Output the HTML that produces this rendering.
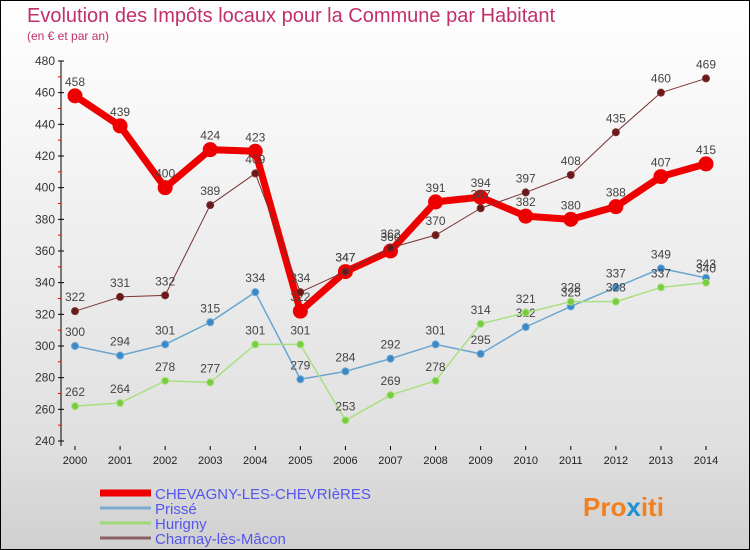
<!DOCTYPE html>
<html><head><meta charset="utf-8"><style>
body{margin:0;width:750px;height:550px;overflow:hidden;font-family:"Liberation Sans",sans-serif}
#c{position:absolute;left:0;top:0}
</style></head><body>
<svg id="c" width="750" height="550" xmlns="http://www.w3.org/2000/svg">
<defs><linearGradient id="bg" x1="0" y1="0" x2="0" y2="1"><stop offset="0" stop-color="#ffffff"/><stop offset="0.8" stop-color="#e0e0e0"/><stop offset="1" stop-color="#d0d0d0"/></linearGradient></defs>
<rect x="0.5" y="0.5" width="749" height="549" fill="url(#bg)" stroke="#000"/>
<text x="27" y="22" font-size="20" fill="#c0306a">Evolution des Impôts locaux pour la Commune par Habitant</text>
<text x="27" y="40" font-size="12" fill="#c0306a">(en € et par an)</text>
<g id="axes"></g><g id="series"></g><g id="legend"></g>
<text x="583" y="516" font-size="26" font-weight="bold" fill="#f08020">Pro<tspan fill="#2090d0">x</tspan>iti</text>
</svg>
<script>
const years=[2000,2001,2002,2003,2004,2005,2006,2007,2008,2009,2010,2011,2012,2013,2014];
const yTicks=[240,260,280,300,320,340,360,380,400,420,440,460,480];
const chevagny=[458,439,400,424,423,322,347,360,391,394,382,380,388,407,415];
const prisse=[300,294,301,315,334,279,284,292,301,295,312,325,337,349,343];
const hurigny=[262,264,278,277,301,301,253,269,278,314,321,328,328,337,340];
const charnay=[322,331,332,389,409,334,347,362,370,387,397,408,435,460,469];
const seriesNames=["CHEVAGNY-LES-CHEVRIèRES","Prissé","Hurigny","Charnay-lès-Mâcon"];
const NS="http://www.w3.org/2000/svg";
const xs=i=>75+i*(706-75)/(years.length-1);
const ys=v=>441-(v-240)*(441-61)/240;
function mk(t,a,p){const e=document.createElementNS(NS,t);for(const k in a)e.setAttribute(k,a[k]);p.appendChild(e);return e;}
const ax=document.getElementById('axes');
const yl=mk('line',{x1:61,y1:61,x2:61,y2:446,stroke:'#000'},ax);


yTicks.forEach((v,i)=>{
  mk('line',{x1:58,y1:ys(v),x2:64,y2:ys(v),stroke:'#000'},ax);
  if(i<yTicks.length-1)mk('line',{x1:58,y1:ys(v+10),x2:61,y2:ys(v+10),stroke:'#e00'},ax);
  const t=mk('text',{x:55,y:ys(v)+4,'font-size':12,fill:'#333','text-anchor':'end'},ax);t.textContent=v;
  
  
});
years.forEach((y,i)=>{
  mk('line',{x1:xs(i),y1:446,x2:xs(i),y2:450,stroke:'#000'},ax);
  const t=mk('text',{x:xs(i),y:464,'font-size':11,fill:'#222','text-anchor':'middle'},ax);t.textContent=y;
  
  
});
const sg=document.getElementById('series');
function draw(data,color,dot,w,r,name){
  const g=mk('g',{},sg);
  
  
  mk('polyline',{points:data.map((v,i)=>xs(i)+','+ys(v)).join(' '),fill:'none',stroke:color,'stroke-width':w,'stroke-linejoin':'round'},g);
  data.forEach((v,i)=>{
    const c=mk('circle',{cx:xs(i),cy:ys(v),r:r,fill:dot,stroke:color,'stroke-width':1},g);
    
    
    const t=mk('text',{x:xs(i),y:ys(v)-10,'font-size':12,fill:'#444','text-anchor':'middle'},g);t.textContent=v;
    
    
  });
}
draw(prisse,'#6aa6d0','#3a88c8',1.5,3.5,'series-prisse');
draw(hurigny,'#a8e080','#78cc40',1.5,3.5,'series-hurigny');
draw(chevagny,'#ee0000','#ee0000',7,7,'series-chevagny');
draw(charnay,'#7a3030','#6a1818',1,3.5,'series-charnay');
const lg=document.getElementById('legend');
const lc=['#ee0000','#7aaad0','#a0d878','#8a6060'],lw=[7,3,3,3];
seriesNames.forEach((n,i)=>{
  const y=493+i*15;
  const l=mk('line',{x1:100,y1:y,x2:151,y2:y,stroke:lc[i],'stroke-width':lw[i]},lg);
  
  
  const t=mk('text',{x:155,y:y+6,'font-size':15,fill:'#5555ee'},lg);t.textContent=n;
  
  
});
</script>
</body></html>
